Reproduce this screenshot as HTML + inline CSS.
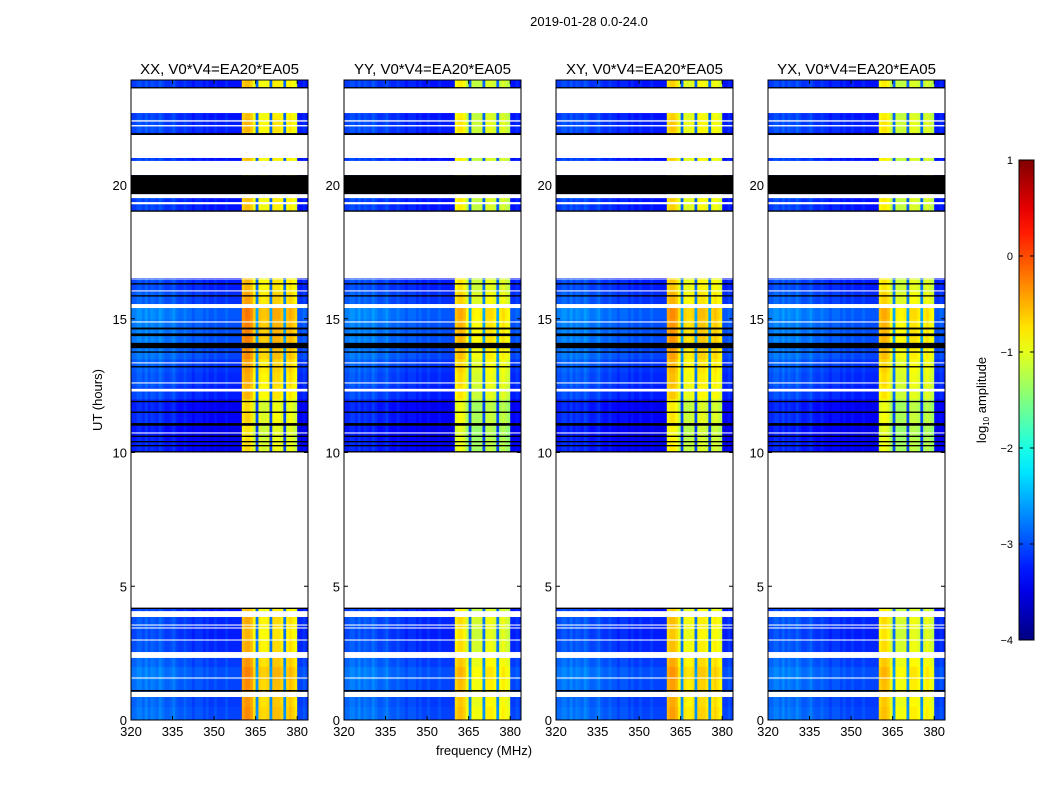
<!DOCTYPE html>
<html><head><meta charset="utf-8"><style>
html,body{margin:0;padding:0;background:#fff;}
svg{display:block;font-family:"Liberation Sans","DejaVu Sans",sans-serif;}
</style></head><body>
<svg id="fig" width="1050" height="800" viewBox="0 0 1050 800">
<text x="589" y="26" font-size="13" text-anchor="middle">2019-01-28 0.0-24.0</text>
<text x="484" y="755" font-size="13" text-anchor="middle">frequency (MHz)</text>
<text transform="translate(102,400) rotate(-90)" font-size="13" text-anchor="middle">UT (hours)</text>
<g id="panels"></g>
<g id="cbar"></g>
<text transform="translate(986,400) rotate(-90)" font-size="13" text-anchor="middle">log<tspan font-size="8" dy="3">10</tspan><tspan dy="-3"> amplitude</tspan></text>
</svg>
<script>
// ---- data ----
const panelTitles = ["XX, V0*V4=EA20*EA05","YY, V0*V4=EA20*EA05","XY, V0*V4=EA20*EA05","YX, V0*V4=EA20*EA05"];
const xTicks = [320,335,350,365,380];
const yTicks = [0,5,10,15,20];
const cbarTicks = [-4,-3,-2,-1,0,1];
const cbarTickLabels = ["\u22124","\u22123","\u22122","\u22121","0","1"];
// channel levels, 1 MHz each from 320 to 384
const chanLevel = [-3.1,-3.1,-3.0,-3.0,-3.1,-2.95,-3.1,-3.0,-3.05,-3.1,-2.95,-3.05,-3.15,-3.15,-3.1,-3.0,
 -3.15,-3.2,-3.2,-3.1,-3.2,-3.2,-3.3,-3.2,-3.2,-3.2,-3.3,-3.2,-3.3,-3.3,-3.2,-3.3,
 -3.3,-3.3,-3.2,-3.3,-3.3,-3.3,-3.3,-3.3,-0.7,-0.6,-0.6,-0.7,-1.0,-2.9,-0.95,-1.0,
 -1.0,-0.95,-2.9,-0.85,-0.85,-0.85,-0.95,-2.9,-0.95,-0.85,-0.95,-1.05,-3.3,-3.3,-3.2,-3.3];
// row offsets every 0.5 h, 0..24 h
const rowOffset = [0.25,0.2,0.25,0.3,0.2,0.1,0.05,0.1,0,0,0,0,0,0,0,0,0,0,0,0,
 -0.15,-0.2,-0.1,-0.15,0.05,0.1,0.15,0.25,0.3,0.3,0.35,0.15,0.05,-0.05,0,0,0,0,0,
 0.05,0,0,0,0,0.05,0,0.05,0];
const panelHot = [0.05,-0.2,-0.05,-0.2];
// masks in hours: [start,end]
const whiteSegs = [[22.69,23.63],[22.37,22.42],[22.19,22.24],[21.01,21.87],[20.37,20.90],[19.51,19.66],[19.28,19.36],
 [16.52,19.03],[4.19,10.02],[3.85,4.07],[3.53,3.57],[3.42,3.46],[2.97,3.01],[2.32,2.54],[1.55,1.59],[0.86,1.05],
 [16.47,16.5],[16.02,16.06],[15.40,15.55],[14.86,14.9],[13.33,13.37],[12.58,12.62],[12.28,12.38],[10.71,10.75]];
const blackSegs = [[23.61,23.66],[21.87,21.94],[19.66,20.37],[19.0,19.05],[16.28,16.33],[15.83,15.88],[14.6,14.67],
 [14.35,14.45],[13.9,14.1],[13.73,13.78],[13.18,13.23],[11.88,11.93],[11.48,11.53],[11.0,11.1],[10.58,10.63],
 [10.38,10.43],[10.23,10.28],[10.0,10.05],[4.15,4.2],[1.06,1.12]];
// ---- layout ----
const panelX = [131,344,556,768];
const PW = 177, PT = 80, PB = 720;
const NS = "http://www.w3.org/2000/svg";
const xs = (f,x0)=> x0 + (f-320)*2.77;
const ys = h => 720 - h*26.75;
function jet(v){
  let t=(v+4)/5; t=Math.max(0,Math.min(1,t));
  const c=a=>Math.round(255*Math.max(0,Math.min(1,1.5-Math.abs(4*t-a))));
  return `rgb(${c(3)},${c(2)},${c(1)})`;
}
function mk(tag,attrs,parent){const e=document.createElementNS(NS,tag);for(const k in attrs)e.setAttribute(k,attrs[k]);parent.appendChild(e);return e;}
const panels=document.getElementById('panels');
panelX.forEach((x0,p)=>{
  const g=mk('g',{},panels);
  
  
  const cp=mk('clipPath',{id:'cp'+p},g); mk('rect',{x:x0,y:PT,width:PW,height:PB-PT},cp);
  const hm=mk('g',{'clip-path':'url(#cp'+p+')'},g);
  
  
  for(let i=0;i<rowOffset.length;i++){
    for(let j=0;j<chanLevel.length;j++){
      let v=chanLevel[j]+rowOffset[i];
      if(chanLevel[j]>-2) v+=panelHot[p];
      const x1=xs(320+j,x0), x2=xs(321+j,x0), y1=ys(i*0.5+0.5), y2=ys(i*0.5);
      const r=mk('rect',{x:x1.toFixed(2),y:y1.toFixed(2),width:(x2-x1+0.4).toFixed(2),height:(y2-y1+0.4).toFixed(2),fill:jet(v)},hm);
      
      
    }
  }
  whiteSegs.forEach(s=>{const r=mk('rect',{x:x0,y:ys(s[1]),width:PW,height:(s[1]-s[0])*26.75,fill:'#fff'},hm);
    
    });
  blackSegs.forEach(s=>{const r=mk('rect',{x:x0,y:ys(s[1]),width:PW,height:Math.max(1.2,(s[1]-s[0])*26.75),fill:'#000'},hm);
    
    });
  const fr=mk('rect',{x:x0,y:PT,width:PW,height:PB-PT,fill:'none',stroke:'#000','stroke-width':1},g);
  
  
  const t=mk('text',{x:x0+PW/2,y:74,'font-size':15,'text-anchor':'middle'},g); t.textContent=panelTitles[p];
  
  
  xTicks.forEach(f=>{const x=xs(f,x0);
    mk('line',{x1:x,x2:x,y1:PB,y2:PB-4,stroke:'#000'},g); mk('line',{x1:x,x2:x,y1:PT,y2:PT+4,stroke:'#000'},g);
    const tl=mk('text',{x:x,y:PB+16,'font-size':13,'text-anchor':'middle'},g); tl.textContent=f;
    
    });
  yTicks.forEach(h=>{const y=ys(h);
    mk('line',{x1:x0,x2:x0+4,y1:y,y2:y,stroke:'#000'},g); mk('line',{x1:x0+PW,x2:x0+PW-4,y1:y,y2:y,stroke:'#000'},g);
    const tl=mk('text',{x:x0-4,y:y+5,'font-size':13,'text-anchor':'end'},g); tl.textContent=h;
    
    });
});
// colorbar
const cb=document.getElementById('cbar');
const cbY=v=>640-(v+4)*96;
const defs=mk('defs',{},cb); const lg=mk('linearGradient',{id:'jetg',x1:0,y1:1,x2:0,y2:0},defs);
for(let k=0;k<=20;k++){mk('stop',{offset:k/20,'stop-color':jet(-4+k*5/20)},lg);}
const cr=mk('rect',{x:1019,y:160,width:15,height:480,fill:'url(#jetg)',stroke:'#000'},cb);


cbarTicks.forEach((v,k)=>{const y=cbY(v);
  mk('line',{x1:1019,x2:1023,y1:y,y2:y,stroke:'#000'},cb); mk('line',{x1:1034,x2:1030,y1:y,y2:y,stroke:'#000'},cb);
  const tl=mk('text',{x:1013,y:y+4,'font-size':11,'text-anchor':'end'},cb); tl.textContent=cbarTickLabels[k];
  
  });
</script>
</body></html>
